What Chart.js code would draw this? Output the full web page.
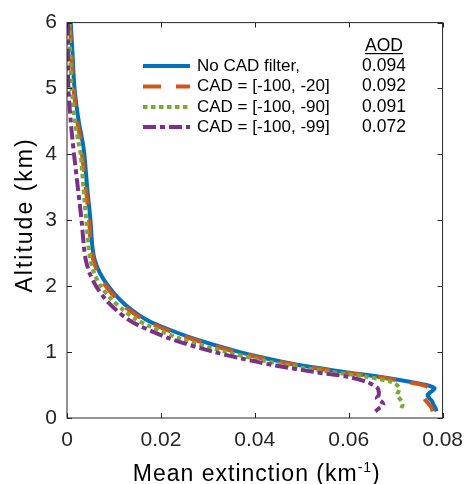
<!DOCTYPE html>
<html>
<head>
<meta charset="utf-8">
<script src="https://cdn.jsdelivr.net/npm/chart.js@4/dist/chart.umd.min.js"></script>
<style>
  body { margin: 0; background: #fff; }
  #wrap { width: 473px; height: 484px; }
</style>
</head>
<body>
<div id="wrap"><canvas id="extGraph" width="473" height="484"></canvas></div>
<script>
// altitude levels (km) the profiles were read at
const altitude = [6.0, 5.5, 5.0, 4.5, 4.2, 4.0, 3.5, 3.0, 2.6, 2.4, 2.2, 2.0, 1.8, 1.65, 1.5, 1.4, 1.2, 1.0, 0.9, 0.8, 0.7, 0.63, 0.55, 0.5, 0.45, 0.4, 0.35, 0.3, 0.25, 0.2, 0.15, 0.1];

// mean extinction (km-1) for each CAD filter
const noFilter = [0.0008, 0.0012, 0.0016, 0.0025, 0.0033, 0.0037, 0.0043, 0.0050, 0.0054, 0.0059, 0.0070, 0.0088, 0.0112, 0.0136, 0.0167, 0.0197, 0.0272, 0.0368, 0.0428, 0.0497, 0.0590, 0.0662, 0.0730, 0.0765, 0.0783, 0.0776, 0.0768, 0.0772, 0.0778, 0.0781, 0.0785, 0.0787];
const cad20 = [0.0006, 0.0010, 0.0014, 0.0022, 0.0029, 0.0032, 0.0040, 0.0047, 0.0051, 0.0056, 0.0066, 0.0083, 0.0107, 0.0130, 0.0161, 0.0190, 0.0265, 0.0360, 0.0420, 0.0490, 0.0582, 0.0655, 0.0722, 0.0758, 0.0772, 0.0766, 0.0760, 0.0761, 0.0766, 0.0772, 0.0777, 0.0779];
const cad90 = [0.0005, 0.0007, 0.0010, 0.0017, 0.0024, 0.0029, 0.0035, 0.0041, 0.0046, 0.0050, 0.0058, 0.0072, 0.0095, 0.0118, 0.0146, 0.0174, 0.0243, 0.0340, 0.0400, 0.0470, 0.0560, 0.0635, 0.0690, 0.0703, 0.0708, 0.0706, 0.0703, 0.0708, 0.0713, 0.0715, 0.0712, 0.0710];
const cad99 = [0.0002, 0.0002, 0.0003, 0.0008, 0.0012, 0.0015, 0.0023, 0.0031, 0.0036, 0.0040, 0.0048, 0.0062, 0.0082, 0.0103, 0.0129, 0.0154, 0.0221, 0.0314, 0.0374, 0.0442, 0.0525, 0.0595, 0.0638, 0.0652, 0.0662, 0.0664, 0.0664, 0.0660, 0.0670, 0.0674, 0.0665, 0.0657];

const seriesLabels = ['No CAD filter,', 'CAD = [-100, -20]', 'CAD = [-100, -90]', 'CAD = [-100, -99]'];
const aodValues = ['0.094', '0.092', '0.091', '0.072'];

const FONT = "'Liberation Sans', Arial, sans-serif";
const AXIS_COLOR = '#262626';

function toPoints(values) {
    return values.map(function (v, i) { return { x: v, y: altitude[i] }; });
}

function makeSet(label, values, color, dash, order) {
    return {
        label: label,
        data: toPoints(values),
        borderColor: color,
        backgroundColor: color,
        borderWidth: 4,
        borderDash: dash,
        borderCapStyle: 'butt',
        borderJoinStyle: 'round',
        pointRadius: 0,
        showLine: true,
        tension: 0.3,
        fill: false,
        order: order
    };
}

// inward ticks, box, axis titles and the AOD legend
const extrasPlugin = {
    id: 'extras',
    afterDraw: function (chart) {
        const ctx = chart.ctx;
        const a = chart.chartArea;
        const xs = chart.scales.x;
        const ys = chart.scales.y;
        ctx.save();
        ctx.strokeStyle = AXIS_COLOR;
        ctx.lineWidth = 1;
        ctx.strokeRect(a.left, a.top, a.right - a.left, a.bottom - a.top);
        ctx.beginPath();
        xs.ticks.forEach(function (t) {
            const px = Math.round(xs.getPixelForValue(t.value)) + 0.5;
            ctx.moveTo(px, a.bottom); ctx.lineTo(px, a.bottom - 5);
            ctx.moveTo(px, a.top); ctx.lineTo(px, a.top + 5);
        });
        ys.ticks.forEach(function (t) {
            const py = Math.round(ys.getPixelForValue(t.value)) + 0.5;
            ctx.moveTo(a.left, py); ctx.lineTo(a.left + 5, py);
            ctx.moveTo(a.right, py); ctx.lineTo(a.right - 5, py);
        });
        ctx.stroke();

        // x title with superscript
        ctx.fillStyle = '#000';
        ctx.textBaseline = 'alphabetic';
        ctx.letterSpacing = '1px';
        ctx.font = '23px ' + FONT;
        const part1 = 'Mean extinction (km';
        const sup = '-1';
        const part3 = ')';
        const w1 = ctx.measureText(part1).width;
        const w3 = ctx.measureText(part3).width;
        ctx.font = '14px ' + FONT;
        const w2 = ctx.measureText(sup).width;
        const total = w1 + w2 + w3;
        const x0 = (a.left + a.right) / 2 - total / 2 + 2;
        const base = 481;
        ctx.textAlign = 'left';
        ctx.font = '23px ' + FONT;
        ctx.fillText(part1, x0, base);
        ctx.font = '14px ' + FONT;
        ctx.fillText(sup, x0 + w1, base - 9);
        ctx.font = '23px ' + FONT;
        ctx.fillText(part3, x0 + w1 + w2, base);

        // y title
        ctx.save();
        ctx.translate(32, 215);
        ctx.rotate(-Math.PI / 2);
        ctx.letterSpacing = '2px';
        ctx.textAlign = 'center';
        ctx.fillText('Altitude (km)', 0, 0);
        ctx.restore();
        ctx.letterSpacing = '0px';

        // legend
        const rowY = [66, 86.5, 107, 127];
        ctx.textBaseline = 'middle';
        chart.data.datasets.forEach(function (ds, i) {
            ctx.save();
            ctx.strokeStyle = ds.borderColor;
            ctx.lineWidth = ds.borderWidth;
            ctx.lineCap = 'butt';
            ctx.setLineDash(ds.borderDash);
            ctx.beginPath();
            ctx.moveTo(143, rowY[i]);
            ctx.lineTo(190, rowY[i]);
            ctx.stroke();
            ctx.restore();
            ctx.fillStyle = '#000';
            ctx.textAlign = 'left';
            ctx.font = '17px ' + FONT;
            ctx.fillText(seriesLabels[i], 197, rowY[i]);
            ctx.textAlign = 'center';
            ctx.font = '17.5px ' + FONT;
            ctx.fillText(aodValues[i], 384, rowY[i]);
        });
        ctx.font = '17.5px ' + FONT;
        ctx.textAlign = 'center';
        ctx.textBaseline = 'alphabetic';
        ctx.fillText('AOD', 384, 51);
        const aw = ctx.measureText('AOD').width;
        ctx.fillRect(384 - aw / 2, 53, aw, 1.2);
        ctx.restore();
    }
};

document.addEventListener('DOMContentLoaded', function () {
    const ctx = document.getElementById('extGraph').getContext('2d');
    const extChart = new Chart(ctx, {
        type: 'scatter',
        data: {
            datasets: [
                makeSet(seriesLabels[0], noFilter, '#0072BD', [], 3),
                makeSet(seriesLabels[1], cad20, '#D95319', [18, 15], 2),
                makeSet(seriesLabels[2], cad90, '#77AC30', [4.5, 3.5], 1),
                makeSet(seriesLabels[3], cad99, '#7E2F8E', [13, 4, 5, 4], 0)
            ]
        },
        options: {
            responsive: false,
            animation: false,
            layout: { padding: { left: 0, right: 25, top: 20, bottom: 0 } },
            plugins: {
                legend: { display: false },
                tooltip: { enabled: false }
            },
            scales: {
                x: {
                    type: 'linear',
                    min: 0,
                    max: 0.08,
                    grid: { display: false, drawTicks: false },
                    border: { display: false },
                    ticks: {
                        stepSize: 0.02,
                        padding: 10,
                        color: AXIS_COLOR,
                        font: { family: FONT, size: 21 },
                        maxRotation: 0,
                        callback: function (v) { return v === 0 ? '0' : v.toFixed(2); }
                    },
                    afterFit: function (scale) { scale.height = 66; }
                },
                y: {
                    type: 'linear',
                    min: 0,
                    max: 6,
                    grid: { display: false, drawTicks: false },
                    border: { display: false },
                    ticks: {
                        stepSize: 1,
                        padding: 10,
                        color: AXIS_COLOR,
                        font: { family: FONT, size: 21 }
                    },
                    afterFit: function (scale) { scale.width = 67; }
                }
            }
        },
        plugins: [extrasPlugin]
    });
});
</script>
</body>
</html>
